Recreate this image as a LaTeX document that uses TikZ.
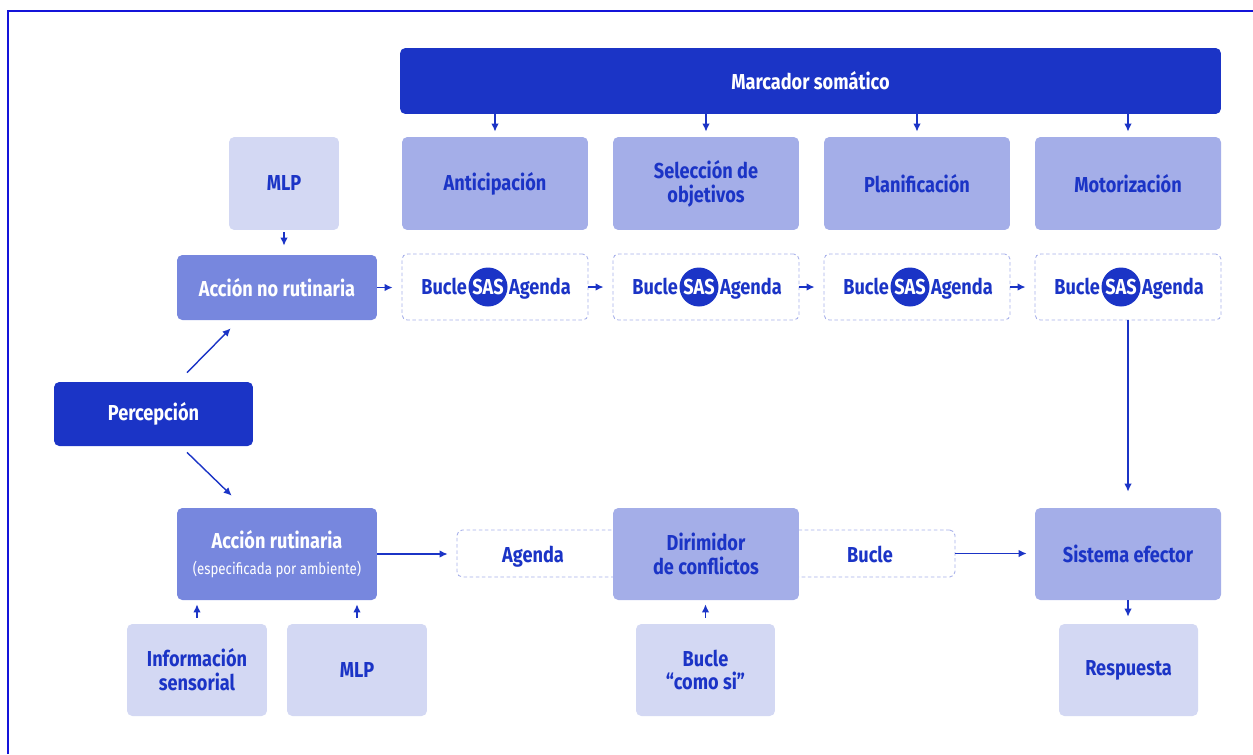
\documentclass[tikz,border=0pt]{standalone}
\usepackage{fontspec}
\setmainfont{Fira Sans}[FakeStretch=0.84]
\usepackage{tikz}
\usetikzlibrary{arrows.meta,positioning,calc}
\definecolor{deepblue}{HTML}{1B34C6}
\definecolor{midblue}{HTML}{7787DE}
\definecolor{softblue}{HTML}{A4AEE8}
\definecolor{paleblue}{HTML}{D3D8F3}
\definecolor{dashblue}{HTML}{A7B0EA}
\definecolor{frameblue}{HTML}{1414D9}
\tikzset{
  blk/.style={rounded corners=3pt, align=center, inner sep=2pt, font=\bfseries\fontsize{12.3}{13.6}\selectfont, text=deepblue},
  blkd/.style={blk, fill=deepblue, text=white},
  blkm/.style={blk, fill=midblue, text=white},
  blks/.style={blk, fill=softblue},
  blkp/.style={blk, fill=paleblue},
  loopbox/.style={draw=dashblue, dash pattern=on 2pt off 1.5pt, line width=.5pt, rounded corners=3pt, fill=white},
  sas/.style={circle, fill=deepblue, text=white, inner sep=0pt, minimum size=0.78cm, font=\bfseries\fontsize{12.3}{13}\selectfont},
  ar/.style={-{Latex[length=1.6mm,width=1.5mm]}, line width=.8pt, draw=deepblue},
  lbl/.style={font=\bfseries\fontsize{12.3}{13.6}\selectfont, text=deepblue},
}
\begin{document}
\begin{tikzpicture}[x=0.02cm,y=-0.02cm]
    \useasboundingbox (0,0) rectangle (1253,754);
    \draw[frameblue, line width=.8pt] (8,754) -- (8,11) -- (1253,11);

    % fila superior
    \node[blkd, minimum width=16.42cm, minimum height=1.32cm] (marc) at (810.5,81) {Marcador somático};
    \foreach \n/\x/\t in {antic/495/Anticipación, selec/706/{Selección de\\objetivos}, plan/917/Planificación, motor/1128/Motorización}{
      \node[blks, minimum width=3.72cm, minimum height=1.86cm] (\n) at (\x,183.5) {\t};
      \draw[ar, shorten >=0.1cm] (\n.north |- marc.south) -- (\n.north);
    }
    \foreach \i/\x in {1/495,2/706,3/917,4/1128}{
      \node[loopbox, minimum width=3.72cm, minimum height=1.32cm] (sas\i) at (\x,287) {};
      \node[sas] (c\i) at ({\x-7},287) {SAS};
      \node[lbl, anchor=mid east, inner sep=0pt] (bu\i) at ([xshift=-0.5pt]c\i.mid west) {Bucle};
      \node[lbl, anchor=mid west, inner sep=0pt] (ag\i) at ([xshift=0.5pt]c\i.mid east) {Agenda};
    }
    \foreach \a/\b in {1/2,2/3,3/4}{
      \draw[ar, shorten >=0.18cm] (sas\a.east) -- (sas\b.west);
    }

    \node[blkp, minimum width=2.2cm, minimum height=1.86cm] (mlp1) at (284,183.5) {MLP};
    \node[blkm, minimum width=4cm, minimum height=1.3cm] (anr) at (277,287.5) {Acción no rutinaria};
    \draw[ar, shorten <=0.04cm, shorten >=0.18cm] (mlp1.south) -- (mlp1.south |- anr.north);
    \draw[ar, shorten >=0.18cm] (anr.east) -- (anr.east -| sas1.west);

    % percepcion
    \node[blkd, minimum width=3.98cm, minimum height=1.28cm] (perc) at (153.5,414) {Percepción};
    \node[blkm, minimum width=4cm, minimum height=1.84cm] (rut) at (277,554) {Acción rutinaria\\[1pt]{\mdseries\fontsize{9}{11}\selectfont(especificada por ambiente)}};
    \draw[ar] ([xshift=0.67cm, yshift=0.18cm]perc.north) -- ([xshift=1.08cm, yshift=-0.16cm]anr.south west);
    \draw[ar] ([xshift=0.67cm, yshift=-0.12cm]perc.south) -- ([xshift=1.1cm, yshift=0.24cm]rut.north west);

    % fila inferior
    \node[loopbox, minimum width=9.96cm, minimum height=0.94cm] (dlong) at (706,553.5) {};
    \node[lbl, anchor=base] (agenda) at (533,562) {Agenda};
    \node[lbl, anchor=base] (bucle) at (870,562) {Bucle};
    \node[blks, minimum width=3.72cm, minimum height=1.84cm] (dirim) at (706,554) {Dirimidor\\de conflictos};
    \node[blks, minimum width=3.72cm, minimum height=1.84cm] (sist) at (1128,554) {Sistema efector};
    \draw[ar, shorten >=0.18cm] (rut.east) -- (rut.east -| dlong.west);
    \draw[ar, shorten >=0.16cm] (dlong.east) -- (dlong.east -| sist.west);
    \draw[ar, shorten >=0.32cm] (sas4.south) -- (sist.north);

    \node[blkp, minimum width=2.8cm, minimum height=1.84cm] (info) at (197,670) {Información\\sensorial};
    \node[blkp, minimum width=2.8cm, minimum height=1.84cm] (mlp2) at (357,670) {MLP};
    \node[blkp, minimum width=2.78cm, minimum height=1.84cm] (como) at (705.5,670) {Bucle\\“como si”};
    \node[blkp, minimum width=2.78cm, minimum height=1.84cm] (resp) at (1128.5,670) {Respuesta};
    \foreach \n/\m in {info/rut, mlp2/rut, como/dirim}{
      \draw[ar, shorten <=0.12cm, shorten >=0.08cm] (\n.north) -- (\n.north |- \m.south);
    }
    \draw[ar, shorten >=0.14cm] (sist.south) -- (sist.south |- resp.north);
\end{tikzpicture}
\end{document}
